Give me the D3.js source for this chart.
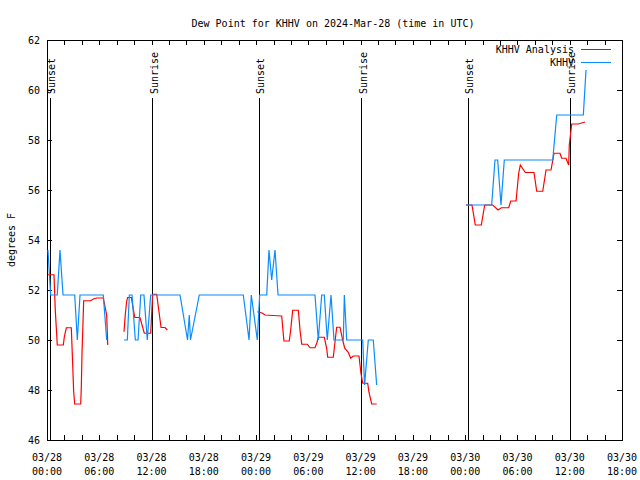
<!DOCTYPE html>
<html>
<head>
<meta charset="utf-8">
<script src="https://cdn.jsdelivr.net/npm/d3@7"></script>
<style>
  html, body { margin: 0; padding: 0; background: #fff; }
  svg { display: block; }
  text { font-family: "DejaVu Sans Mono", "Liberation Mono", monospace; font-size: 10px; fill: #000; }
</style>
</head>
<body>
<svg id="chart" width="640" height="480"></svg>
<script>
// ---- Data (hours since 2024-03-28 00:00 UTC) ----
const chartTitle = "Dew Point for KHHV on 2024-Mar-28 (time in UTC)";
const yLabel = "degrees F";
const seriesNames = ["KHHV Analysis", "KHHV"];

// KHHV observations (blue); null = gap
const obsHours = [0.11, 0.42, 1.18, 1.49, 1.84, 3.18, 3.48, 3.79, 6.46, 6.85, null,
  8.84, 9.22, 9.45, 9.76, 10.14, 10.45, 10.76, 11.13, 11.51, 11.90, 15.27, 16.13, 16.33, 16.47, 17.48,
  22.53, 23.19, 23.45, 24.14, 24.41, 25.22, 25.48, 25.79, 26.17, 26.52, 30.76, 31.14, 31.53, 31.83,
  32.17, 32.60, 32.94, 34.01, 34.13, 34.40, 36.24, 36.45, 36.88, 37.45, 37.84, null,
  48.09, 51.04, 51.42, 51.73, 52.11, 52.49, 58.05, 58.51, 61.56, 61.87];
const obsValues = [53.6, 51.8, 51.8, 53.6, 51.8, 51.8, 50.0, 51.8, 51.8, 50.0, null,
  50.0, 50.0, 51.8, 51.8, 50.0, 50.0, 51.8, 51.8, 50.0, 51.8, 51.8, 50.0, 51.0, 50.0, 51.8,
  51.8, 50.0, 51.8, 50.0, 51.8, 51.8, 53.6, 52.4, 53.6, 51.8, 51.8, 50.0, 51.8, 51.8,
  50.0, 51.8, 50.0, 50.0, 51.8, 50.0, 50.0, 48.2, 50.0, 50.0, 48.2, null,
  55.4, 55.4, 57.2, 57.2, 55.4, 57.2, 57.2, 59.0, 59.0, 60.8];

// KHHV Analysis (red); null = gap
const anaHours = [0.11, 0.80, 0.95, 1.18, 1.87, 1.99, 2.22, 2.79, 2.95, 3.06, 3.18, 3.87, 3.94, 4.02,
  4.21, 5.02, 5.31, 5.74, 6.46, 6.85, 6.97, null,
  8.84, 8.99, 9.15, 9.26, 9.68, 10.07, 10.67, 11.17, 11.90, 12.13, 12.59, 13.09, 13.54, 13.81, null,
  24.14, 24.68, 25.02, 25.98, 26.94, 27.13, 27.20, 27.81, 27.97, 28.20, 28.85, 29.04, 29.24, 29.88,
  30.19, 30.76, 30.99, 31.14, 31.83, 32.10, 32.22, 32.86, 33.06, 33.25, 33.63, 33.94, 34.17, 34.58,
  34.86, 35.16, 35.81, 36.04, 36.24, 36.81, 36.96, 37.27, 37.84, null,
  48.09, 48.78, 49.16, 49.85, 50.24, 51.16, 51.77, 52.15, 53.00, 53.23, 53.84, 54.14, 54.33, 54.90,
  55.90, 56.21, 56.90, 57.28, 57.85, 58.20, 58.88, 59.08, 59.57, 59.88, 59.95, 60.23, 60.99, 61.76];
const anaValues = [52.61, 52.61, 51.2, 49.8, 49.8, 50.13, 50.49, 50.49, 49.0, 47.93, 47.44, 47.44, 48.13, 49.5,
  51.57, 51.57, 51.64, 51.68, 51.68, 51.0, 49.8, null,
  50.33, 51.03, 51.56, 51.7, 51.7, 50.9, 50.9, 50.27, 50.27, 51.83, 51.83, 50.5, 50.5, 50.4, null,
  51.13, 51.08, 51.0, 50.98, 50.96, 50.2, 49.96, 49.96, 50.4, 51.19, 51.19, 50.4, 49.83, 49.83,
  49.69, 49.69, 49.9, 50.11, 50.11, 49.67, 49.31, 49.31, 49.93, 50.51, 50.51, 50.0, 49.67, 49.51,
  49.27, 49.36, 49.36, 48.66, 48.27, 48.27, 47.9, 47.44, 47.44, null,
  55.4, 55.4, 54.6, 54.6, 55.4, 55.4, 55.2, 55.29, 55.29, 55.56, 55.56, 56.67, 57.0, 56.7,
  56.7, 55.95, 55.95, 56.8, 56.8, 57.47, 57.47, 57.27, 57.27, 57.0, 57.8, 58.64, 58.64, 58.72];

// Sun events
const sunLabels = ["Sunset", "Sunrise", "Sunset", "Sunrise", "Sunset", "Sunrise"];
const sunHours = [0.35, 12.15, 24.35, 36.15, 48.35, 60.05];

// Axis ticks
const xLabelHours = [0, 6, 12, 18, 24, 30, 36, 42, 48, 54, 60, 66];
const xTickDates = ["03/28", "03/28", "03/28", "03/28", "03/29", "03/29", "03/29", "03/29", "03/30", "03/30", "03/30", "03/30"];
const xTickTimes = ["00:00", "06:00", "12:00", "18:00", "00:00", "06:00", "12:00", "18:00", "00:00", "06:00", "12:00", "18:00"];
const yTickValues = [46, 48, 50, 52, 54, 56, 58, 60, 62];

// ---- Layout ----
const svg = d3.select("#chart");
const L = 47, R = 622, T = 40, B = 440;
const x = d3.scaleLinear().domain([0, 66]).range([L, R]);
const y = d3.scaleLinear().domain([46, 62]).range([B, T]);
const colors = ["#ff0000", "#0a8cff"];

// Title
svg.append("text").attr("x", 333).attr("y", 27).attr("text-anchor", "middle").text(chartTitle);

// Y label
svg.append("text").attr("transform", "translate(15,240) rotate(-90)")
  .attr("text-anchor", "middle").text(yLabel);

// Axes (ticks inward, mirrored)
const minorHours = d3.range(0, 67, 2);
const axB = d3.axisBottom(x).tickValues(minorHours).tickSize(-5).tickFormat("");
const axT = d3.axisTop(x).tickValues(minorHours).tickSize(-5).tickFormat("");
const axL = d3.axisLeft(y).tickValues(yTickValues).tickSize(-5).tickPadding(7).tickFormat(d3.format("d"));
const axR = d3.axisRight(y).tickValues(yTickValues).tickSize(-5).tickFormat("");

function styleAxis(g) {
  g.select(".domain").remove();
  g.selectAll("line").attr("stroke", "#000").attr("shape-rendering", "crispEdges");
  g.selectAll("text").attr("font-family", null).attr("font-size", null);
}
svg.append("g").attr("transform", `translate(0,${B})`).call(axB).call(styleAxis);
svg.append("g").attr("transform", `translate(0,${T})`).call(axT).call(styleAxis);
svg.append("g").attr("transform", `translate(${L},0)`).call(axL).call(styleAxis);
svg.append("g").attr("transform", `translate(${R},0)`).call(axR).call(styleAxis);

// X tick labels (two lines)
const xl = svg.append("g");
xLabelHours.forEach((h, i) => {
  const t = xl.append("text").attr("x", x(h)).attr("text-anchor", "middle");
  t.append("tspan").attr("x", x(h)).attr("y", 461).text(xTickDates[i]);
  t.append("tspan").attr("x", x(h)).attr("y", 475).text(xTickTimes[i]);
});

// Border
svg.append("rect").attr("x", L).attr("y", T).attr("width", R - L).attr("height", B - T)
  .attr("fill", "none").attr("stroke", "#000").attr("shape-rendering", "crispEdges");

// Sun lines and labels
sunHours.forEach((h, i) => {
  svg.append("line").attr("x1", x(h)).attr("x2", x(h)).attr("y1", 98).attr("y2", B)
    .attr("stroke", "#000").attr("stroke-width", 1).attr("shape-rendering", "crispEdges");
  svg.append("text").attr("transform", `translate(${x(h) + 5},94) rotate(-90)`)
    .attr("text-anchor", "start").text(sunLabels[i]);
});

// Series lines
function drawSeries(hours, values, color) {
  const pts = hours.map((h, i) => ({ h: h, v: values[i] }));
  const line = d3.line()
    .defined(d => d.h !== null && d.v !== null)
    .x(d => x(d.h)).y(d => y(d.v));
  svg.append("path").datum(pts).attr("d", line)
    .attr("fill", "none").attr("stroke", color).attr("stroke-width", 1.2)
    .attr("stroke-linejoin", "miter");
}
drawSeries(anaHours, anaValues, colors[0]);
drawSeries(obsHours, obsValues, colors[1]);

// Legend
const legY = [49, 62];
seriesNames.forEach((name, i) => {
  svg.append("text").attr("x", 574).attr("y", legY[i] + 4).attr("text-anchor", "end").text(name);
  svg.append("line").attr("x1", 581).attr("x2", 611).attr("y1", legY[i]).attr("y2", legY[i])
    .attr("stroke", colors[i]).attr("stroke-width", 1).attr("shape-rendering", "crispEdges");
});
</script>
</body>
</html>
